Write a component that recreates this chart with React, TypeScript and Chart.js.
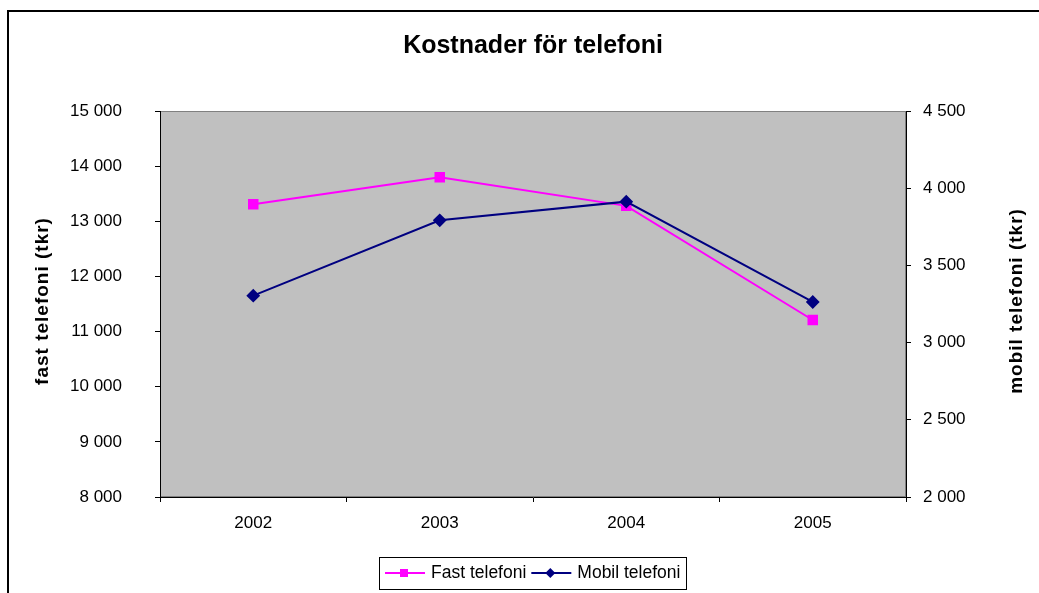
import React, { useEffect, useRef } from "react";
import { Chart, registerables } from "chart.js";

Chart.register(...registerables);

const categories = ["2002", "2003", "2004", "2005"];
const fastTelefoni = [13310, 13800, 13280, 11210];
const mobilTelefoni = [3304, 3792, 3913, 3263];
const leftTicks = { min: 8000, max: 15000, step: 1000 };
const rightTicks = { min: 2000, max: 4500, step: 500 };
const titleText = "Kostnader för telefoni";
const leftTitle = "fast telefoni (tkr)";
const rightTitle = "mobil telefoni (tkr)";
const seriesNames = ["Fast telefoni", "Mobil telefoni"];

const FONT = "'Liberation Sans', Arial, sans-serif";

const fmt = (v: number | string) => {
  const n = Math.round(Number(v));
  return String(n).replace(/\B(?=(\d{3})+(?!\d))/g, " ");
};

const drawVerticalTitle = (ctx: any, text: string, x: number, y: number) => {
  ctx.save();
  ctx.fillStyle = "#000";
  ctx.font = `bold 19px ${FONT}`;
  try { ctx.letterSpacing = "1px"; } catch (e) {}
  ctx.textAlign = "center";
  ctx.textBaseline = "middle";
  ctx.translate(x, y);
  ctx.rotate(-Math.PI / 2);
  ctx.fillText(text, 0, 0);
  ctx.restore();
};

const decorPlugin = {
  id: "decor",
  beforeDraw(chart: any) {
    const { ctx, chartArea } = chart;
    ctx.save();
    ctx.fillStyle = "#ffffff";
    ctx.fillRect(0, 0, chart.width, chart.height);
    ctx.strokeStyle = "#000000";
    ctx.lineWidth = 2;
    ctx.strokeRect(8, 11, 1200, 1000);
    ctx.fillStyle = "#c0c0c0";
    ctx.fillRect(chartArea.left, chartArea.top, chartArea.right - chartArea.left, chartArea.bottom - chartArea.top);
    ctx.strokeStyle = "#808080";
    ctx.lineWidth = 1;
    ctx.strokeRect(chartArea.left + 0.5, chartArea.top + 0.5, chartArea.right - chartArea.left - 1, chartArea.bottom - chartArea.top - 1);
    ctx.restore();
  },
  afterDraw(chart: any) {
    const { ctx, chartArea } = chart;
    const midY = (chartArea.top + chartArea.bottom) / 2 - 3;
    drawVerticalTitle(ctx, leftTitle, 43, midY);
    drawVerticalTitle(ctx, rightTitle, 1017, midY);

    ctx.save();
    const bx = 379, by = 557, bw = 307, bh = 32;
    ctx.fillStyle = "#fff";
    ctx.fillRect(bx, by, bw, bh);
    ctx.strokeStyle = "#000";
    ctx.lineWidth = 1;
    ctx.strokeRect(bx + 0.5, by + 0.5, bw, bh);
    ctx.font = `17.5px ${FONT}`;
    ctx.textBaseline = "middle";
    ctx.textAlign = "left";
    const cy = by + bh / 2;
    let x = bx + 6;
    chart.data.datasets.forEach((ds: any) => {
      ctx.strokeStyle = ds.borderColor;
      ctx.lineWidth = 2;
      ctx.beginPath();
      ctx.moveTo(x, cy);
      ctx.lineTo(x + 40, cy);
      ctx.stroke();
      ctx.fillStyle = ds.pointBackgroundColor;
      const mx = x + 19;
      if (ds.pointStyle === "rect") {
        ctx.fillRect(mx - 4, cy - 4, 8, 8);
      } else {
        ctx.beginPath();
        ctx.moveTo(mx, cy - 5);
        ctx.lineTo(mx + 5, cy);
        ctx.lineTo(mx, cy + 5);
        ctx.lineTo(mx - 5, cy);
        ctx.closePath();
        ctx.fill();
      }
      ctx.fillStyle = "#000";
      ctx.fillText(ds.label, x + 46, cy);
      x += 46 + ctx.measureText(ds.label).width + 5;
    });
    ctx.restore();
  },
};

export default function App() {
  const ref = useRef<HTMLCanvasElement | null>(null);
  useEffect(() => {
    if (!ref.current) return;
    const chart = new Chart(ref.current, {
      type: "line",
      data: {
        labels: categories,
        datasets: [
          {
            label: seriesNames[0],
            data: fastTelefoni,
            yAxisID: "y",
            borderColor: "#ff00ff",
            backgroundColor: "#ff00ff",
            pointBackgroundColor: "#ff00ff",
            pointBorderColor: "#ff00ff",
            pointStyle: "rect",
            pointRadius: 6,
            borderWidth: 2,
            tension: 0,
            order: 1,
          },
          {
            label: seriesNames[1],
            data: mobilTelefoni,
            yAxisID: "y1",
            borderColor: "#000080",
            backgroundColor: "#000080",
            pointBackgroundColor: "#000080",
            pointBorderColor: "#000080",
            pointStyle: "rectRot",
            pointRadius: 5.5,
            borderWidth: 2,
            tension: 0,
            order: 0,
          },
        ],
      },
      plugins: [decorPlugin],
      options: {
        responsive: false,
        animation: false,
        layout: { padding: { left: 0, right: 0, top: 0, bottom: 56 } },
        plugins: {
          legend: { display: false },
          tooltip: { enabled: false },
          title: {
            display: true,
            text: titleText,
            color: "#000",
            fullSize: false,
            font: { family: FONT, size: 25, weight: "bold", lineHeight: 1.2 },
            padding: { top: 31, bottom: 50 },
          },
        },
        scales: {
          x: {
            type: "category",
            offset: true,
            grid: { offset: true, drawOnChartArea: false, drawTicks: true, tickLength: 5, color: "#000" },
            border: { display: true, color: "#000", width: 1 },
            ticks: { color: "#000", font: { family: FONT, size: 17 }, padding: 11, maxRotation: 0 },
            afterFit: (s: any) => { s.height = 40; },
          },
          y: {
            type: "linear",
            position: "left",
            min: leftTicks.min,
            max: leftTicks.max,
            grid: { drawOnChartArea: false, drawTicks: true, tickLength: 5, color: "#000" },
            border: { display: true, color: "#000", width: 1 },
            ticks: { stepSize: leftTicks.step, color: "#000", font: { family: FONT, size: 17 }, padding: 33, callback: (v: any) => fmt(v) },
            afterFit: (s: any) => { s.width = 160; },
          },
          y1: {
            type: "linear",
            position: "right",
            min: rightTicks.min,
            max: rightTicks.max,
            grid: { drawOnChartArea: false, drawTicks: true, tickLength: 5, color: "#000" },
            border: { display: true, color: "#000", width: 1 },
            ticks: { stepSize: rightTicks.step, color: "#000", font: { family: FONT, size: 17 }, padding: 12, callback: (v: any) => fmt(v) },
            afterFit: (s: any) => { s.width = 133; },
          },
        },
      },
    } as any);
    return () => chart.destroy();
  }, []);
  return (
    <div style={{ position: "fixed", left: 0, top: 0, width: 1039, height: 593 }}>
      <canvas ref={ref} width={1039} height={593} style={{ width: 1039, height: 593, display: "block" }} />
    </div>
  );
}
